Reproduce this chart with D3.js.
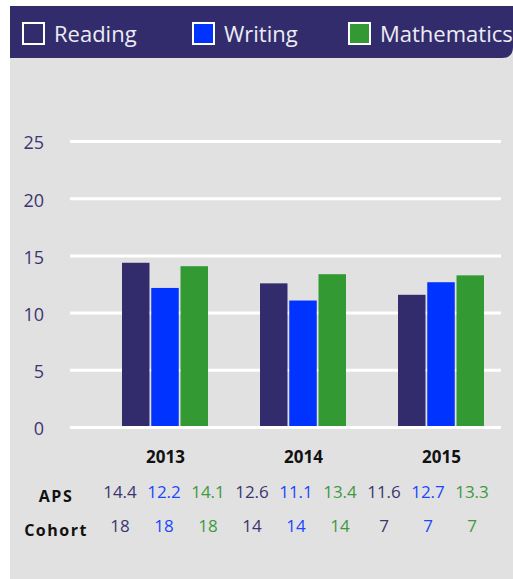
<!DOCTYPE html>
<html>
<head>
<meta charset="utf-8">
<script src="https://cdn.jsdelivr.net/npm/d3@7/dist/d3.min.js"></script>
<style>
  html, body { margin: 0; padding: 0; background: #ffffff; }
  svg { display: block; font-family: "Open Sans", sans-serif; }
</style>
</head>
<body>
<svg id="chart" width="513" height="579"></svg>
<script>
// ---- data ----
const years = ["2013", "2014", "2015"];
const subjects = ["Reading", "Writing", "Mathematics"];
const reading = [14.4, 12.6, 11.6];
const writing = [12.2, 11.1, 12.7];
const mathematics = [14.1, 13.4, 13.3];
const cohortReading = [18, 14, 7];
const cohortWriting = [18, 14, 7];
const cohortMathematics = [18, 14, 7];
const yTicks = [0, 5, 10, 15, 20, 25];
const rowLabels = ["APS", "Cohort"];

const colors = { Reading: "#332c6c", Writing: "#0033ff", Mathematics: "#339933" };
const textColors = { Reading: "#3b3572", Writing: "#1a47ff", Mathematics: "#3d9a3d" };
const seriesVals = { Reading: reading, Writing: writing, Mathematics: mathematics };
const cohortVals = { Reading: cohortReading, Writing: cohortWriting, Mathematics: cohortMathematics };

const svg = d3.select("#chart");

// panel background
svg.append("rect").attr("x", 10).attr("y", 6).attr("width", 503).attr("height", 573).attr("fill", "#e1e1e1");

// header with rounded bottom-right corner
const hx = 10, hy = 6, hw = 503, hh = 52, r = 11;
svg.append("path")
  .attr("d", `M${hx},${hy} H${hx + hw} V${hy + hh - r} Q${hx + hw},${hy + hh} ${hx + hw - r},${hy + hh} H${hx} Z`)
  .attr("fill", "#332c6c");

// legend
const legendX = [22, 192, 348];
const leg = svg.append("g").selectAll("g").data(subjects).join("g")
  .attr("transform", (d, i) => `translate(${legendX[i]},22)`);
leg.append("rect").attr("x", 1).attr("y", 1).attr("width", 21).attr("height", 21)
  .attr("fill", d => colors[d]).attr("stroke", "#ffffff").attr("stroke-width", 2);
leg.append("text").attr("x", 32).attr("y", 20).attr("font-size", 22)
  .attr("fill", "#ececf4").text(d => d);

// scales
const y = d3.scaleLinear().domain([0, 25]).range([427.5, 141.5]);
const x0 = d3.scaleBand().domain(years).range([95.5, 509.5]).paddingInner(0);
const x1 = d3.scaleBand().domain(subjects).range([26.5, 112.5]).paddingInner(0.06);

// gridlines
svg.append("g").selectAll("line").data(yTicks.filter(t => t > 0)).join("line")
  .attr("x1", 70).attr("x2", 501)
  .attr("y1", d => y(d)).attr("y2", d => y(d))
  .attr("stroke", "#ffffff").attr("stroke-width", 3);

// y axis labels
const yAxis = d3.axisLeft(y).tickValues(yTicks).tickSize(0).tickPadding(0);
const yg = svg.append("g").attr("transform", "translate(44,1)").call(yAxis);
yg.select(".domain").remove();
yg.selectAll("text").attr("font-size", 18).attr("font-family", "Open Sans, sans-serif")
  .attr("fill", "#3b3572").attr("dy", "0.36em");

// bars
const groups = svg.append("g").selectAll("g").data(years).join("g")
  .attr("transform", d => `translate(${x0(d)},0)`);
groups.selectAll("rect").data((d, i) => subjects.map(s => ({ s, v: seriesVals[s][i] }))).join("rect")
  .attr("x", d => x1(d.s)).attr("width", x1.bandwidth())
  .attr("y", d => y(d.v)).attr("height", d => y(0) - y(d.v))
  .attr("fill", d => colors[d.s]);

// zero line on top
svg.append("line").attr("x1", 70).attr("x2", 501).attr("y1", y(0)).attr("y2", y(0))
  .attr("stroke", "#ffffff").attr("stroke-width", 3);

// category labels
const xAxis = d3.axisBottom(x0).tickSize(0).tickPadding(0);
const xg = svg.append("g").attr("transform", "translate(1,0)").call(xAxis);
xg.select(".domain").remove();
xg.selectAll("text").attr("y", 462.5).attr("dy", null).attr("font-size", 17).attr("font-weight", "bold")
  .attr("font-family", "Open Sans, sans-serif").attr("fill", "#111111");

// table
const cols = [];
years.forEach((yr, i) => subjects.forEach(s => cols.push({ key: yr + s, s, aps: seriesVals[s][i], cohort: cohortVals[s][i] })));
const xc = d3.scalePoint().domain(cols.map(c => c.key)).range([120, 472]);
const rowY = d3.scalePoint().domain(rowLabels).range([498, 532]);

svg.append("g").selectAll("text").data(rowLabels).join("text")
  .attr("x", 56).attr("y", d => rowY(d) + 3.5).attr("text-anchor", "middle")
  .attr("font-size", 16).attr("font-weight", "bold").attr("letter-spacing", 1.5)
  .attr("fill", "#111111").text(d => d);

svg.append("g").selectAll("text").data(cols).join("text")
  .attr("x", d => xc(d.key)).attr("y", rowY("APS")).attr("text-anchor", "middle")
  .attr("font-size", 17).attr("fill", d => textColors[d.s]).text(d => d.aps.toFixed(1));

svg.append("g").selectAll("text").data(cols).join("text")
  .attr("x", d => xc(d.key)).attr("y", rowY("Cohort")).attr("text-anchor", "middle")
  .attr("font-size", 17).attr("fill", d => textColors[d.s]).text(d => d.cohort);
</script>
</body>
</html>
